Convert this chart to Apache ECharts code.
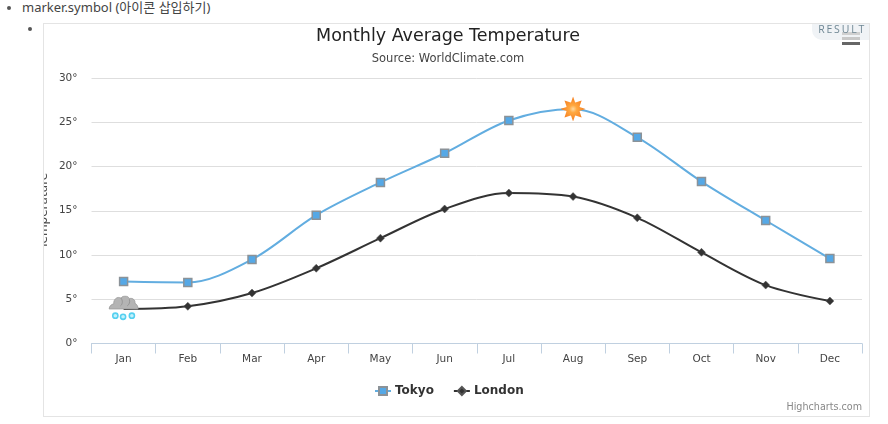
<!DOCTYPE html>
<html>
<head>
<meta charset="utf-8">
<title>Monthly Average Temperature</title>
<script src="https://cdn.jsdelivr.net/npm/echarts@6/dist/echarts.min.js"></script>
<style>
  html, body { margin: 0; padding: 0; background: #fff; width: 888px; height: 424px; overflow: hidden; }
  .note { position: absolute; left: 22px; top: -2px; font: 13px/18px "Noto Sans", "Noto Sans CJK KR", sans-serif; color: #444; white-space: nowrap; }
  .dot { position: absolute; width: 4px; height: 4px; border-radius: 50%; background: #555; }
  #frame { position: absolute; left: 43px; top: 23px; width: 825px; height: 392px; border: 1px solid #e4e4e4; overflow: hidden; }
  #chart { position: absolute; left: 0; top: 0; width: 825px; height: 392px; }
  #badge { position: absolute; right: 0; top: 0; width: 57px; height: 16px; background: #f0f3f6; border-bottom-left-radius: 10px; }
  #badgeText { position: absolute; right: 3px; top: 0; font: 10.5px/10px "Open Sans", sans-serif; letter-spacing: 1.8px; color: #6f8794; white-space: nowrap; }
  .bar { position: absolute; left: 798px; width: 18px; height: 3px; }
</style>
</head>
<body>
<div class="dot" style="left:7px;top:6px"></div>
<div class="note">marker.symbol (아이콘 삽입하기)</div>
<div class="dot" style="left:28px;top:27px"></div>
<div id="frame">
  <div id="chart"></div>
  <div id="badge"></div>
  <div class="bar" style="top:8px;background:#d0d0d0"></div>
  <div class="bar" style="top:13px;background:#c8c8c8"></div>
  <div class="bar" style="top:18px;background:#666"></div>
  <div id="badgeText">RESULT</div>
</div>
<script>
var categories = ['Jan', 'Feb', 'Mar', 'Apr', 'May', 'Jun', 'Jul', 'Aug', 'Sep', 'Oct', 'Nov', 'Dec'];
var tokyo = [7.0, 6.9, 9.5, 14.5, 18.2, 21.5, 25.2, 26.5, 23.3, 18.3, 13.9, 9.6];
var london = [3.9, 4.2, 5.7, 8.5, 11.9, 15.2, 17.0, 16.6, 14.2, 10.3, 6.6, 4.8];

// Weather icons used as individual point markers.
var sunSvg = '<svg xmlns="http://www.w3.org/2000/svg" viewBox="0 0 48 48"><defs>' +
  '<radialGradient id="g" cx="50%" cy="50%" r="50%"><stop offset="0" stop-color="#ffd9a0"/>' +
  '<stop offset="0.3" stop-color="#ffa840"/><stop offset="1" stop-color="#f57c1f"/></radialGradient></defs>' +
  '<path fill="url(#g)" d="M24 0L28 11.5 30 11 40.5 7.5 37 18 36.5 20 48 24 36.5 28 37 30 40.5 40.5 30 37 28 36.5 24 48 20 36.5 18 37 7.5 40.5 11 30 11.5 28 0 24 11.5 20 11 18 7.5 7.5 18 11 20 11.5Z"/></svg>';
var snowSvg = '<svg xmlns="http://www.w3.org/2000/svg" viewBox="0 0 60 52">' +
  '<path fill="#b4b4b4" stroke="#9a9a9a" stroke-width="1.5" d="M2 26C2 20 7 17 11 16 10 7 18 1 25 5 29 -1 39 0 41 6 48 4 53 9 52 15 56 17 58 21 58 26Z"/>' +
  '<path fill="none" stroke="#8c8c8c" stroke-width="1.5" d="M25 5C29 10 28 17 24 20M41 7C43 12 41 18 37 20"/>' +
  '<g fill="#c4f1fb" stroke="#55d0f0" stroke-width="3">' +
  '<circle cx="14" cy="39" r="5"/><circle cx="29" cy="41" r="5"/><circle cx="46" cy="39" r="5"/></g></svg>';
function iconUri(svg) { return 'image://data:image/svg+xml,' + encodeURIComponent(svg); }

var tokyoPoints = tokyo.map(function (v, i) {
  return categories[i] === 'Aug' ? { value: v, symbol: iconUri(sunSvg), symbolSize: 25 } : v;
});
var londonPoints = london.map(function (v, i) {
  return categories[i] === 'Jan' ? { value: v, symbol: iconUri(snowSvg), symbolSize: [31, 27] } : v;
});

var font = '"DejaVu Sans", sans-serif';
var chart = echarts.init(document.getElementById('chart'), null, { renderer: 'canvas' });
chart.setOption({
  animation: false,
  backgroundColor: '#fff',
  title: [
    { text: 'Monthly Average Temperature', left: 399, top: -2, textAlign: 'center',
      textStyle: { fontFamily: font, fontSize: 17.5, fontWeight: 'normal', color: '#222' } },
    { text: 'Source: WorldClimate.com', left: 399, top: 24, textAlign: 'center',
      textStyle: { fontFamily: font, fontSize: 11.5, fontWeight: 'normal', color: '#444' } }
  ],
  legend: {
    left: 325, top: 356, itemGap: 19, itemWidth: 16, itemHeight: 10,
    textStyle: { fontFamily: font, fontSize: 12, fontWeight: 'bold', color: '#333', padding: [0, 0, 0, -1] },
    data: ['Tokyo', 'London']
  },
  grid: { left: 47.5, right: 7, top: 54, height: 265.5, outerBoundsMode: 'none' },
  xAxis: {
    type: 'category', data: categories, boundaryGap: true,
    axisLine: { lineStyle: { color: '#C0D0E0', width: 1 } },
    axisTick: { show: true, length: 10, alignWithLabel: false, lineStyle: { color: '#C0D0E0' } },
    axisLabel: { fontFamily: font, fontSize: 10.5, color: '#444', margin: 10 }
  },
  yAxis: {
    type: 'value', min: 0, max: 30, interval: 5,
    name: 'Temperature', nameLocation: 'middle', nameGap: 42, nameRotate: 90, nameMoveOverlap: false,
    nameTextStyle: { fontFamily: font, fontSize: 12, color: '#4d4d4d' },
    axisLine: { show: false }, axisTick: { show: false },
    axisLabel: { fontFamily: font, fontSize: 10.5, color: '#444', margin: 14, formatter: '{value}°' },
    splitLine: { lineStyle: { color: '#dedede', width: 1 } }
  },
  series: [
    { name: 'Tokyo', type: 'line', data: tokyoPoints, smooth: 0.33, symbol: 'rect', symbolSize: 8, showAllSymbol: true,
      lineStyle: { color: '#62ade0', width: 2 },
      itemStyle: { color: '#55a8e6', borderColor: '#8b9298', borderWidth: 1.5 } },
    { name: 'London', type: 'line', data: londonPoints, smooth: 0.33, symbol: 'diamond', symbolSize: 8, showAllSymbol: true,
      lineStyle: { color: '#333', width: 2 },
      itemStyle: { color: '#333', borderColor: '#555', borderWidth: 0.5 } }
  ],
  graphic: [
    { type: 'text', right: 7, top: 378,
      style: { text: 'Highcharts.com', fontFamily: font, fontSize: 9.6, fill: '#888' } }
  ]
});
</script>
</body>
</html>
